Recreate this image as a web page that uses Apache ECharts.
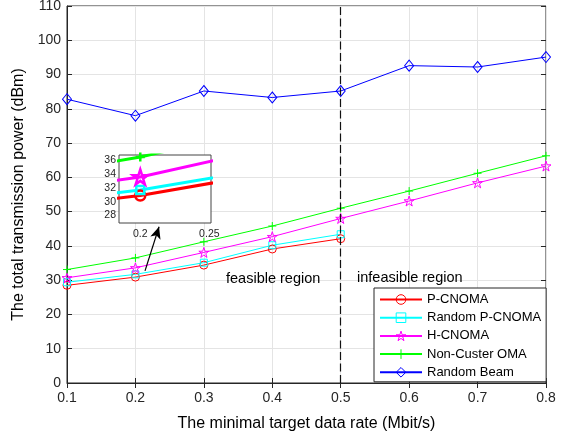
<!DOCTYPE html>
<html>
<head>
<meta charset="utf-8">
<script src="https://cdn.jsdelivr.net/npm/echarts@6/dist/echarts.min.js"></script>
<style>html,body{margin:0;padding:0;background:#fff}#c{width:570px;height:434px}</style>
</head>
<body>
<div id="c"></div>
<script>
const rates = [0.1, 0.2, 0.3, 0.4, 0.5, 0.6, 0.7, 0.8];
const pCnoma = [28.5, 30.9, 34.4, 39.1, 42.1];
const randomPCnoma = [29.4, 31.7, 35.1, 40.2, 43.4];
const hCnoma = [30.7, 33.6, 38.1, 42.7, 48.0, 53.1, 58.4, 63.3];
const nonClusterOma = [33.1, 36.5, 41.2, 45.8, 51.0, 56.0, 61.2, 66.3];
const randomBeam = [82.8, 78.0, 85.2, 83.3, 85.2, 92.6, 92.2, 95.1];
const seriesNames = ['P-CNOMA', 'Random P-CNOMA', 'H-CNOMA', 'Non-Custer OMA', 'Random Beam'];
const feasibleBoundary = 0.5;
const insetYTicks = [28, 30, 32, 34, 36];
const insetXTicks = [0.2, 0.25];
const arrowFrom = [0.214, 32.7];
const arrowTo = [0.2345, 45.6];

const FONT = 'Liberation Sans, Arial, Helvetica, sans-serif';
const AX = '#262626';
const pairs = arr => arr.map((v, i) => [rates[i], v]);

const STAR = 'path://M50,0L61.2,34.5L97.6,34.5L68.2,55.9L79.4,90.5L50,69.1L20.6,90.5L31.8,55.9L2.4,34.5L38.8,34.5Z';
const PLUS = 'path://M5,0L5,10M0,5L10,5';
const styles = [
  {color: '#ff0000', symbol: 'circle', size: 8, insetSize: 10},
  {color: '#00ffff', symbol: 'rect', size: 7, insetSize: 8},
  {color: '#ff00ff', symbol: STAR, size: 10, insetSize: 15},
  {color: '#00ff00', symbol: PLUS, size: 8, insetSize: 9},
  {color: '#0000ff', symbol: 'diamond', size: [9, 11], insetSize: 10}
];
const dataSets = [pCnoma, randomPCnoma, hCnoma, nonClusterOma, randomBeam];

const series = [];
dataSets.forEach((d, i) => {
  const st = styles[i];
  const s = {
    name: seriesNames[i], type: 'line', xAxisIndex: 0, yAxisIndex: 0,
    data: pairs(d), symbol: st.symbol, symbolSize: st.size, showAllSymbol: true,
    lineStyle: {color: st.color, width: 1},
    itemStyle: {color: 'rgba(0,0,0,0)', borderColor: st.color, borderWidth: 1},
    emphasis: {disabled: true}, z: 3, animation: false
  };
  if (i === 4) {
    s.markLine = {
      silent: true, animation: false, symbol: ['none', 'none'], label: {show: false},
      lineStyle: {color: '#111', type: [8, 3.5], width: 1.2},
      data: [{xAxis: feasibleBoundary}]
    };
  }
  if (i === 0) {
    s.markLine = {
      silent: true, animation: false, symbol: ['none', 'arrow'], symbolSize: [8, 12],
      label: {show: false},
      lineStyle: {color: '#000', type: 'solid', width: 1.2},
      data: [[{coord: arrowFrom}, {coord: arrowTo}]]
    };
  }
  series.push(s);
});
for (let i = 0; i < 4; i++) {
  const st = styles[i];
  series.push({
    name: 'inset ' + seriesNames[i], type: 'line', xAxisIndex: 2, yAxisIndex: 2,
    data: pairs(dataSets[i]), symbol: st.symbol, symbolSize: st.insetSize, showAllSymbol: true,
    clip: true,
    lineStyle: {color: st.color, width: 3},
    itemStyle: {color: 'rgba(0,0,0,0)', borderColor: st.color, borderWidth: 2.5},
    emphasis: {disabled: true}, z: 10, animation: false
  });
}

const chart = echarts.init(document.getElementById('c'), null, {renderer: 'canvas'});
chart.setOption({
  animation: false,
  backgroundColor: '#fff',
  textStyle: {fontFamily: FONT},
  grid: [
    {left: 67, top: 6, width: 479, height: 377, outerBoundsMode: 'none', containLabel: false,
     show: true, borderColor: AX, borderWidth: 1, backgroundColor: '#fff', z: 0},
    {left: 119, top: 155, width: 92, height: 68, outerBoundsMode: 'none', containLabel: false,
     show: true, borderColor: '#444', borderWidth: 1, backgroundColor: '#fff', z: 8}
  ],
  xAxis: [
    {type: 'value', gridIndex: 0, min: 0.1, max: 0.8, interval: 0.1,
     name: 'The minimal target data rate (Mbit/s)', nameLocation: 'middle', nameGap: 33,
     nameTextStyle: {fontSize: 16, color: '#000', fontFamily: FONT},
     axisLine: {show: true, onZero: false, lineStyle: {color: AX}},
     axisTick: {show: true, inside: true, length: 5, lineStyle: {color: AX}},
     axisLabel: {fontSize: 14, color: AX, margin: 8, fontFamily: FONT, formatter: v => v.toFixed(1)},
     splitLine: {show: true, lineStyle: {color: '#e4e4e4', width: 1}}},
    {type: 'value', gridIndex: 0, position: 'top', min: 0.1, max: 0.8, interval: 0.1,
     axisLine: {show: false}, axisLabel: {show: false}, splitLine: {show: false},
     axisTick: {show: true, inside: true, length: 5, lineStyle: {color: AX}}},
    {type: 'value', gridIndex: 1, min: 0.1846, max: 0.2512,
     axisLine: {show: false}, splitLine: {show: false},
     axisTick: {show: true, inside: true, length: 3, customValues: insetXTicks, lineStyle: {color: '#444'}},
     axisLabel: {fontSize: 10.5, color: AX, margin: 6, fontFamily: FONT, customValues: insetXTicks,
                 formatter: v => String(Math.round(v * 100) / 100)}}
  ],
  yAxis: [
    {type: 'value', gridIndex: 0, min: 0, max: 110, interval: 10,
     name: 'The total transmission power (dBm)', nameLocation: 'middle', nameGap: 30,
     nameTextStyle: {fontSize: 16, color: '#000', fontFamily: FONT},
     axisLine: {show: true, lineStyle: {color: AX}},
     axisTick: {show: true, inside: true, length: 5, lineStyle: {color: AX}},
     axisLabel: {fontSize: 14, color: AX, margin: 6, fontFamily: FONT},
     splitLine: {show: true, lineStyle: {color: '#e4e4e4', width: 1}}},
    {type: 'value', gridIndex: 0, position: 'right', min: 0, max: 110, interval: 10,
     axisLine: {show: false}, axisLabel: {show: false}, splitLine: {show: false},
     axisTick: {show: true, inside: true, length: 5, lineStyle: {color: AX}}},
    {type: 'value', gridIndex: 1, min: 26.9, max: 36.8,
     axisLine: {show: false}, splitLine: {show: false},
     axisTick: {show: true, inside: true, length: 3, customValues: insetYTicks, lineStyle: {color: '#444'}},
     axisLabel: {fontSize: 10.5, color: AX, margin: 3, fontFamily: FONT, customValues: insetYTicks}}
  ],
  legend: {
    orient: 'vertical', left: 374, top: 288,
    data: seriesNames,
    itemWidth: 42, itemHeight: 12, itemGap: 5.2,
    padding: [5, 5, 3, 5],
    backgroundColor: '#fff', borderColor: AX, borderWidth: 1,
    itemStyle: {color: 'rgba(0,0,0,0)', borderWidth: 1},
    textStyle: {fontSize: 13, color: '#000', fontFamily: FONT},
    selectedMode: false, z: 20
  },
  graphic: [
    {type: 'text', x: 226, y: 279, z: 20, style: {text: 'feasible region', fontSize: 14.5, fontFamily: FONT, fill: '#000', verticalAlign: 'middle'}},
    {type: 'text', x: 357, y: 278, z: 20, style: {text: 'infeasible region', fontSize: 14.5, fontFamily: FONT, fill: '#000', verticalAlign: 'middle'}}
  ],
  series: series
});
</script>
</body>
</html>
